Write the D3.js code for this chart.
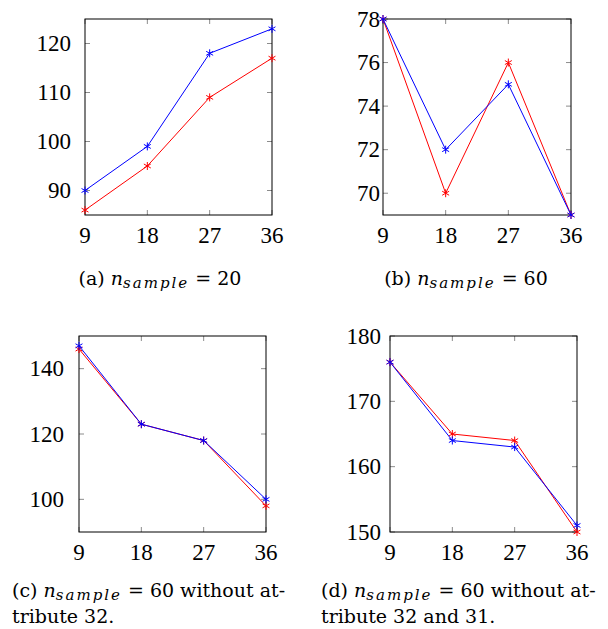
<!DOCTYPE html>
<html>
<head>
<meta charset="utf-8">
<script src="https://cdn.jsdelivr.net/npm/d3@7"></script>
<style>
  body { margin: 0; background: #fff; }
  svg { display: block; }
  .tick-label { font-family: "Liberation Serif", serif; font-size: 23px; fill: #000; }
  .caption { font-family: "DejaVu Serif", serif; font-size: 19px; fill: #000; }
</style>
</head>
<body>
<svg id="chart" width="608" height="629"></svg>
<script>
// x positions shared by all four panels
var xTicks = [9, 18, 27, 36];

// (a) n_sample = 20
var aRed  = [86, 95, 109, 117];
var aBlue = [90, 99, 118, 123];
var aYTicks = [90, 100, 110, 120];

// (b) n_sample = 60
var bRed  = [78, 70, 76, 69];
var bBlue = [78, 72, 75, 69];
var bYTicks = [70, 72, 74, 76, 78];

// (c) n_sample = 60 without attribute 32
var cRed  = [146, 123, 118, 98];
var cBlue = [147, 123, 118, 100];
var cYTicks = [100, 120, 140];

// (d) n_sample = 60 without attribute 32 and 31
var dRed  = [176, 165, 164, 150];
var dBlue = [176, 164, 163, 151];
var dYTicks = [150, 160, 170, 180];

var svg = d3.select("#chart");

var panels = [
  { red: aRed, blue: aBlue, yTicks: aYTicks, yDomain: [85, 125],
    box: { x0: 85, x1: 272, y0: 19, y1: 215 }, labelGap: 14,
    caption: [["(a)\u00a0", "20", ""]], capX: 160, capY: 285, anchor: "middle" },
  { red: bRed, blue: bBlue, yTicks: bYTicks, yDomain: [69, 78],
    box: { x0: 383, x1: 571, y0: 19, y1: 215 }, labelGap: 3,
    caption: [["(b)\u00a0", "60", ""]], capX: 466, capY: 285, anchor: "middle" },
  { red: cRed, blue: cBlue, yTicks: cYTicks, yDomain: [90, 150],
    box: { x0: 79, x1: 266, y0: 336, y1: 532 }, labelGap: 15,
    caption: [["(c)\u00a0", "60", " without at-"], ["tribute 32."]], capX: 12, capY: 597, anchor: "start" },
  { red: dRed, blue: dBlue, yTicks: dYTicks, yDomain: [150, 180],
    box: { x0: 390, x1: 577, y0: 336, y1: 532 }, labelGap: 9,
    caption: [["(d)\u00a0", "60", " without at-"], ["tribute 32 and 31."]], capX: 321, capY: 597, anchor: "start" }
];

// pgfplots-like asterisk: three strokes through the centre
function asterisk(r) {
  var p = d3.path();
  [90, 30, -30].forEach(function(a) {
    var t = a * Math.PI / 180;
    p.moveTo(-r * Math.cos(t), r * Math.sin(t));
    p.lineTo(r * Math.cos(t), -r * Math.sin(t));
  });
  return p.toString();
}

panels.forEach(function(pn) {
  var b = pn.box;
  var x = d3.scaleLinear().domain([9, 36]).range([b.x0, b.x1]);
  var y = d3.scaleLinear().domain(pn.yDomain).range([b.y1, b.y0]);
  var g = svg.append("g");

  // inner tick marks on all four sides
  var tickLen = 5;
  var ticksG = g.append("g").attr("stroke", "#8c8c8c").attr("stroke-width", 1);
  xTicks.forEach(function(t) {
    ticksG.append("line").attr("x1", x(t)).attr("x2", x(t)).attr("y1", b.y1).attr("y2", b.y1 - tickLen);
    ticksG.append("line").attr("x1", x(t)).attr("x2", x(t)).attr("y1", b.y0).attr("y2", b.y0 + tickLen);
  });
  pn.yTicks.forEach(function(t) {
    ticksG.append("line").attr("x1", b.x0).attr("x2", b.x0 + tickLen).attr("y1", y(t)).attr("y2", y(t));
    ticksG.append("line").attr("x1", b.x1).attr("x2", b.x1 - tickLen).attr("y1", y(t)).attr("y2", y(t));
  });

  // frame
  g.append("rect")
    .attr("x", b.x0).attr("y", b.y0)
    .attr("width", b.x1 - b.x0).attr("height", b.y1 - b.y0)
    .attr("fill", "none").attr("stroke", "#000").attr("stroke-width", 1);

  // tick labels
  g.selectAll(".xl").data(xTicks).enter().append("text")
    .attr("class", "tick-label")
    .attr("x", function(d) { return x(d); })
    .attr("y", b.y1 + 28)
    .attr("text-anchor", "middle")
    .text(function(d) { return d; });

  g.selectAll(".yl").data(pn.yTicks).enter().append("text")
    .attr("class", "tick-label")
    .attr("x", b.x0 - pn.labelGap)
    .attr("y", function(d) { return y(d); })
    .attr("dy", "0.34em")
    .attr("text-anchor", "end")
    .text(function(d) { return d; });

  // series: red first, blue on top
  var line = d3.line()
    .x(function(d, i) { return x(xTicks[i]); })
    .y(function(d) { return y(d); });

  [["red", pn.red, "#ff0000"], ["blue", pn.blue, "#0000ff"]].forEach(function(s) {
    g.append("path")
      .datum(s[1])
      .attr("d", line)
      .attr("fill", "none")
      .attr("stroke", s[2])
      .attr("stroke-width", 1);
    g.selectAll(".m-" + s[0]).data(s[1]).enter().append("path")
      .attr("class", "m-" + s[0])
      .attr("transform", function(d, i) { return "translate(" + x(xTicks[i]) + "," + y(d) + ")"; })
      .attr("d", asterisk(4))
      .attr("fill", "none")
      .attr("stroke", s[2])
      .attr("stroke-width", 1);
  });

  // caption
  pn.caption.forEach(function(parts, li) {
    var t = g.append("text")
      .attr("class", "caption")
      .attr("x", pn.capX)
      .attr("y", pn.capY + li * 26)
      .attr("text-anchor", li === 0 ? pn.anchor : "start");
    if (parts.length === 1) {
      t.text(parts[0]);
      return;
    }
    t.append("tspan").text(parts[0]);
    t.append("tspan").attr("font-style", "italic").text("n");
    t.append("tspan").attr("font-style", "italic").attr("font-size", "15px")
      .attr("letter-spacing", "2px").attr("dy", 3).text("sample");
    t.append("tspan").attr("dy", -3).text("\u00a0=\u00a0" + parts[1] + parts[2]);
  });
});
</script>
</body>
</html>
